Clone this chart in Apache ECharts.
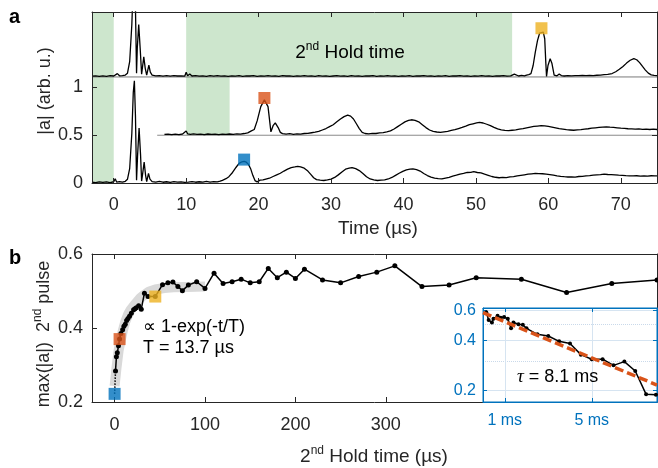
<!DOCTYPE html>
<html><head><meta charset="utf-8">
<script src="https://cdn.jsdelivr.net/npm/echarts@6/dist/echarts.min.js"></script>
<style>html,body{margin:0;padding:0;background:#fff}#c{width:658px;height:468px}</style>
</head><body><div id="c"></div>
<script>
// ---------- DATA ----------
// Panel a: time traces [time (us), |a| relative to own baseline]
const traceBottom = [[-3,0.010],[-2.5,0.004],[-2,0.012],[-1.5,0.006],[-1,0.011],[-0.5,0.005],[0,0.013],[0.2,0.045],[0.4,0.010],[0.8,0.014],[1.2,0.008],[1.6,0.018],[1.9,0.040],[2.2,0.150],[2.5,0.520],[2.7,0.950],[2.85,1.070],[3.0,0.700],[3.15,0.030],[3.3,0.300],[3.5,0.575],[3.7,0.300],[3.85,0.020],[4.0,0.100],[4.2,0.220],[4.4,0.080],[4.55,0.015],[4.8,0.100],[5.0,0.040],[5.3,0.015],[5.8,0.010],[6.3,0.016],[6.8,0.008],[7.3,0.013],[7.8,0.007],[8.3,0.014],[8.8,0.009],[9.3,0.012],[9.8,0.006],[10.0,0.020],[10.3,0.010],[10.8,0.015],[11.3,0.008],[11.8,0.013],[12.3,0.009],[12.8,0.016],[13.3,0.010],[13.8,0.014],[14.3,0.012],[14.7,0.020],[15.0,0.028],[15.5,0.045],[15.9,0.066],[16.4,0.110],[16.9,0.165],[17.3,0.205],[17.7,0.222],[18.0,0.226],[18.3,0.218],[18.6,0.195],[18.9,0.150],[19.2,0.080],[19.5,0.025],[19.8,0.012],[20.2,0.030],[20.6,0.032],[21.0,0.040],[21.5,0.050],[22.0,0.068],[22.5,0.085],[23.0,0.102],[23.5,0.125],[24.0,0.145],[24.5,0.160],[25.0,0.168],[25.4,0.175],[25.8,0.168],[26.3,0.155],[26.8,0.125],[27.2,0.090],[27.6,0.055],[28.0,0.035],[28.5,0.030],[29.0,0.026],[29.5,0.032],[30.0,0.040],[30.5,0.058],[31.0,0.085],[31.5,0.115],[32.0,0.145],[32.5,0.155],[32.9,0.162],[33.4,0.150],[33.9,0.130],[34.4,0.100],[34.9,0.065],[35.4,0.042],[35.9,0.032],[36.4,0.026],[36.9,0.030],[37.4,0.032],[37.9,0.042],[38.4,0.058],[38.9,0.080],[39.4,0.102],[39.9,0.122],[40.4,0.138],[40.9,0.145],[41.3,0.148],[41.8,0.140],[42.3,0.125],[42.8,0.100],[43.3,0.078],[43.8,0.062],[44.3,0.050],[44.8,0.046],[45.3,0.044],[45.8,0.052],[46.3,0.060],[46.8,0.072],[47.3,0.082],[47.8,0.094],[48.3,0.100],[48.8,0.110],[49.3,0.112],[49.7,0.118],[50.2,0.110],[50.7,0.105],[51.2,0.092],[51.7,0.080],[52.2,0.068],[52.7,0.060],[53.2,0.055],[53.7,0.058],[54.2,0.056],[54.7,0.064],[55.2,0.066],[55.7,0.074],[56.2,0.080],[56.7,0.086],[57.2,0.092],[57.7,0.096],[58.2,0.100],[58.7,0.098],[59.2,0.097],[59.7,0.093],[60.2,0.088],[60.7,0.082],[61.2,0.075],[61.7,0.070],[62.2,0.066],[62.7,0.063],[63.2,0.064],[63.7,0.062],[64.2,0.068],[64.7,0.070],[65.2,0.075],[65.7,0.078],[66.2,0.082],[66.7,0.085],[67.2,0.088],[67.7,0.092],[68.2,0.089],[68.7,0.087],[69.2,0.085],[69.7,0.082],[70.2,0.080],[70.7,0.077],[71.2,0.075],[71.7,0.074],[72.2,0.076],[72.7,0.073],[73.2,0.075],[73.7,0.072],[74.2,0.076],[74.7,0.074],[75.0,0.075]];
const traceMiddle = [[7.0,0.008],[7.5,0.012],[8.0,0.006],[8.5,0.011],[9.0,0.007],[9.5,0.013],[10.0,0.045],[10.2,0.015],[10.6,0.010],[11.0,0.014],[11.5,0.008],[12.0,0.012],[12.5,0.006],[13.0,0.013],[13.5,0.009],[14.0,0.012],[14.5,0.007],[15.0,0.011],[15.5,0.008],[16.0,0.013],[16.5,0.010],[17.0,0.014],[17.5,0.012],[18.0,0.018],[18.5,0.025],[19.0,0.045],[19.4,0.060],[19.8,0.150],[20.3,0.300],[20.8,0.370],[21.0,0.375],[21.3,0.300],[21.7,0.035],[22.0,0.100],[22.3,0.130],[22.7,0.080],[23.0,0.030],[23.3,0.017],[23.8,0.012],[24.3,0.016],[24.8,0.010],[25.3,0.015],[25.8,0.012],[26.3,0.018],[26.8,0.020],[27.3,0.026],[27.8,0.032],[28.3,0.040],[28.8,0.055],[29.3,0.070],[29.8,0.090],[30.3,0.110],[30.8,0.140],[31.3,0.170],[31.8,0.195],[32.3,0.210],[32.7,0.200],[33.1,0.170],[33.5,0.120],[33.9,0.070],[34.3,0.030],[34.7,0.018],[35.2,0.015],[35.7,0.020],[36.2,0.018],[36.7,0.024],[37.2,0.028],[37.7,0.035],[38.2,0.045],[38.7,0.065],[39.2,0.090],[39.7,0.115],[40.2,0.140],[40.7,0.155],[41.1,0.162],[41.6,0.155],[42.1,0.140],[42.6,0.110],[43.1,0.080],[43.6,0.055],[44.1,0.040],[44.6,0.034],[45.1,0.030],[45.6,0.036],[46.1,0.040],[46.6,0.050],[47.1,0.058],[47.6,0.070],[48.1,0.082],[48.6,0.095],[49.1,0.110],[49.6,0.120],[50.1,0.130],[50.5,0.135],[51.0,0.128],[51.5,0.115],[52.0,0.100],[52.5,0.082],[53.0,0.066],[53.5,0.055],[54.0,0.050],[54.5,0.048],[55.0,0.052],[55.5,0.056],[56.0,0.064],[56.5,0.070],[57.0,0.078],[57.5,0.085],[58.0,0.092],[58.5,0.096],[59.0,0.100],[59.5,0.098],[60.0,0.092],[60.5,0.086],[61.0,0.078],[61.5,0.070],[62.0,0.064],[62.5,0.058],[63.0,0.055],[63.5,0.052],[64.0,0.056],[64.5,0.058],[65.0,0.064],[65.5,0.068],[66.0,0.074],[66.5,0.078],[67.0,0.082],[67.5,0.085],[68.0,0.088],[68.5,0.084],[69.0,0.082],[69.5,0.078],[70.0,0.074],[70.5,0.072],[71.0,0.068],[71.5,0.066],[72.0,0.064],[72.5,0.066],[73.0,0.062],[73.5,0.064],[74.0,0.060],[74.5,0.063],[75.0,0.060]];
const traceTop = [[-3,0.008],[-2.5,0.012],[-2,0.006],[-1.5,0.011],[-1,0.007],[-0.5,0.013],[0,0.010],[0.5,0.035],[0.8,0.012],[1.2,0.015],[1.6,0.020],[1.9,0.040],[2.2,0.160],[2.5,0.550],[2.7,0.980],[2.85,1.070],[3.0,0.720],[3.15,0.040],[3.25,0.300],[3.45,0.550],[3.65,0.300],[3.85,0.030],[4.0,0.120],[4.15,0.210],[4.35,0.090],[4.55,0.020],[4.85,0.125],[5.05,0.050],[5.3,0.020],[5.8,0.012],[6.3,0.015],[6.8,0.009],[7.3,0.013],[7.8,0.008],[8.3,0.014],[8.8,0.010],[9.3,0.012],[9.8,0.008],[10.0,0.050],[10.2,0.012],[10.5,0.030],[10.8,0.010],[11.3,0.015],[11.8,0.008],[12.3,0.012],[12.8,0.007],[13.3,0.013],[13.8,0.009],[14.3,0.014],[14.8,0.008],[15.3,0.012],[15.8,0.006],[16.3,0.011],[16.8,0.009],[17.3,0.014],[17.8,0.007],[18.3,0.012],[18.8,0.010],[19.3,0.013],[19.8,0.006],[20.3,0.011],[20.8,0.008],[21.3,0.014],[21.8,0.009],[22.3,0.012],[22.8,0.007],[23.3,0.013],[23.8,0.010],[24.3,0.011],[24.8,0.006],[25.3,0.012],[25.8,0.009],[26.3,0.014],[26.8,0.008],[27.3,0.011],[27.8,0.007],[28.3,0.013],[28.8,0.009],[29.3,0.012],[29.8,0.006],[30.3,0.010],[30.8,0.013],[31.3,0.008],[31.8,0.012],[32.3,0.007],[32.8,0.014],[33.3,0.009],[33.8,0.011],[34.3,0.006],[34.8,0.012],[35.3,0.010],[35.8,0.013],[36.3,0.007],[36.8,0.011],[37.3,0.009],[37.8,0.014],[38.3,0.008],[38.8,0.012],[39.3,0.006],[39.8,0.011],[40.3,0.009],[40.8,0.013],[41.3,0.007],[41.8,0.012],[42.3,0.010],[42.8,0.014],[43.3,0.008],[43.8,0.011],[44.3,0.006],[44.8,0.012],[45.3,0.009],[45.8,0.013],[46.3,0.007],[46.8,0.011],[47.3,0.010],[47.8,0.014],[48.3,0.008],[48.8,0.012],[49.3,0.007],[49.8,0.011],[50.3,0.009],[50.8,0.013],[51.3,0.008],[51.8,0.012],[52.3,0.006],[52.8,0.011],[53.3,0.010],[53.8,0.013],[54.3,0.008],[54.8,0.012],[55.3,0.030],[55.5,0.012],[55.9,0.010],[56.3,0.016],[56.7,0.012],[57.0,0.020],[57.3,0.025],[57.6,0.035],[57.9,0.120],[58.2,0.260],[58.5,0.380],[58.8,0.460],[59.0,0.480],[59.3,0.470],[59.5,0.400],[59.65,0.150],[59.75,0.005],[59.95,0.120],[60.25,0.190],[60.5,0.140],[60.8,0.020],[61.2,0.012],[61.5,0.030],[61.8,0.015],[62.2,0.010],[62.7,0.014],[63.2,0.011],[63.7,0.015],[64.2,0.013],[64.7,0.017],[65.2,0.014],[65.7,0.016],[66.2,0.015],[66.7,0.018],[67.2,0.020],[67.7,0.024],[68.2,0.028],[68.8,0.036],[69.3,0.055],[69.8,0.080],[70.3,0.110],[70.8,0.145],[71.3,0.175],[71.8,0.192],[72.2,0.180],[72.6,0.150],[73.0,0.110],[73.4,0.072],[73.8,0.040],[74.2,0.022],[74.6,0.016],[75.0,0.014]];
const baseBottom = 0, baseMiddle = 0.5, baseTop = 1.11, middleStart = 6;
// green "hold" regions: [t0, t1, ylow, yhigh]
const greenRegions = [[-3,0,0,1.79],[10,55,1.11,1.79],[10,16,0.5,1.11]];
// markers in panel a [time, |a|]
const markersA = [[18.0,0.245],[20.8,0.89],[59.05,1.62]];
const markerColors = ['#0072BD','#D95319','#EDB120'];

// Panel b: [hold time (us), max|a|]
const holdData = [[1,0.284],[2,0.322],[3,0.333],[4.3,0.352],[5.5,0.37],[7,0.385],[8.9,0.395],[10.3,0.405],[11.8,0.41],[13.3,0.42],[14.8,0.426],[16.5,0.432],[18.5,0.44],[21,0.449],[22.5,0.452],[24,0.455],[26.6,0.46],[29.5,0.451],[33,0.494],[37,0.485],[45,0.485],[53,0.517],[59,0.522],[64.5,0.524],[70,0.512],[75,0.501],[81.6,0.516],[90.8,0.525],[100,0.507],[110,0.548],[120,0.52],[130,0.525],[140,0.532],[150,0.522],[160,0.525],[170,0.561],[180,0.536],[190,0.551],[200,0.534],[210,0.559],[230,0.53],[250,0.522],[270,0.539],[290,0.551],[310,0.568],[340,0.512],[370,0.516],[400,0.536],[450,0.532],[500,0.496],[550,0.52],[600,0.53]];
const fitBand = [[0,0.243],[2,0.29],[4.5,0.34],[7,0.37],[9,0.392],[11.8,0.417],[15,0.437],[18,0.45],[22.9,0.465],[28,0.48],[33,0.49],[37.6,0.498],[45,0.504],[55,0.508],[65,0.51],[80,0.511],[100,0.512]];
const markersB = [[0,0.222],[5.5,0.37],[45,0.485]];
// Inset: [hold time (ms), max|a|] on log y
const insetData = [[0.15,0.587],[0.26,0.528],[0.41,0.51],[0.48,0.537],[0.67,0.56],[0.82,0.544],[0.97,0.55],[1.14,0.537],[1.29,0.471],[1.4,0.51],[1.63,0.499],[1.83,0.494],[2.0,0.471],[2.5,0.434],[3.0,0.424],[3.5,0.394],[4.0,0.382],[4.5,0.328],[5.0,0.308],[5.5,0.308],[6.0,0.283],[6.5,0.298],[7.0,0.262],[7.5,0.19],[7.95,0.189]];
const insetFit = [[0,0.585],[8,0.216]];
// ticks
const timeTicks = [0,10,20,30,40,50,60,70];
const ampTicks = [0,0.5,1];
const holdTicks = [0,100,200,300];
const maxTicks = [0.2,0.4,0.6];
const insetXTicks = [1,5];
const insetYTicks = [0.2,0.4,0.6];
const insetYMinor = [0.3,0.5];

// ---------- CHART ----------
const FONT = "'Liberation Sans', Arial, Helvetica, sans-serif";
const AX = '#262626';
const BLUE = '#0072BD';
const GREEN = '#cde6cd';

function axis(o) {
  const ticks = o.ticks, col = o.color || AX;
  return {
    gridIndex: o.grid, type: o.type || 'value', min: o.min, max: o.max, position: o.pos, z: o.z,
    axisLine: { show: true, onZero: false, lineStyle: { color: col, width: 1 } },
    axisTick: { show: true, inside: true, length: o.tl || 5, customValues: ticks, lineStyle: { color: col, width: 1 } },
    axisLabel: o.labels ? { show: true, customValues: ticks, fontSize: o.fs || 18, fontFamily: FONT, color: col, margin: o.margin, formatter: o.fmt } : { show: false },
    splitLine: o.split ? { show: true, lineStyle: { color: '#d6e4f1', width: 1 } } : { show: false }
  };
}

const shift = (arr, b) => arr.map(p => [p[0], p[1] + b]);

const option = {
  animation: false,
  backgroundColor: '#fff',
  grid: [
    { left: 92, top: 12, width: 565, height: 171, outerBoundsMode: 'none', show: false },
    { left: 92, top: 254, width: 565, height: 148, outerBoundsMode: 'none', show: false },
    { left: 483, top: 308, width: 174, height: 94, outerBoundsMode: 'none', show: true, z: 4, backgroundColor: '#fff', borderColor: BLUE, borderWidth: 1 }
  ],
  xAxis: [
    axis({ grid: 0, min: -3, max: 75, pos: 'bottom', ticks: timeTicks, labels: true, margin: 13, z: 5 }),
    axis({ grid: 0, min: -3, max: 75, pos: 'top', ticks: timeTicks, z: 5 }),
    axis({ grid: 1, min: -25, max: 600, pos: 'bottom', ticks: holdTicks, labels: true, margin: 14, z: 3 }),
    axis({ grid: 1, min: -25, max: 600, pos: 'top', ticks: holdTicks, z: 3 }),
    axis({ grid: 2, min: 0, max: 8, pos: 'bottom', ticks: insetXTicks, labels: true, margin: 11, fs: 16, color: BLUE, fmt: v => v + ' ms', split: true, tl: 4, z: 6 }),
    axis({ grid: 2, min: 0, max: 8, pos: 'top', ticks: insetXTicks, color: BLUE, tl: 4, z: 6 })
  ],
  yAxis: [
    axis({ grid: 0, min: 0, max: 1.79, pos: 'left', ticks: ampTicks, labels: true, margin: 9, z: 5 }),
    axis({ grid: 0, min: 0, max: 1.79, pos: 'right', ticks: ampTicks, z: 5 }),
    axis({ grid: 1, min: 0.2, max: 0.6, pos: 'left', ticks: maxTicks, labels: true, margin: 9, fmt: v => v.toFixed(1), z: 3 }),
    axis({ grid: 1, min: 0.2, max: 0.6, pos: 'right', ticks: maxTicks, z: 3 }),
    axis({ grid: 2, type: 'log', min: 0.171, max: 0.623, pos: 'left', ticks: insetYTicks, labels: true, margin: 7, fs: 16, color: BLUE, fmt: v => Number(v).toFixed(1), split: true, tl: 4, z: 6 }),
    axis({ grid: 2, type: 'log', min: 0.171, max: 0.623, pos: 'right', ticks: insetYTicks, color: BLUE, tl: 4, z: 6 })
  ],
  series: [
    { type: 'line', xAxisIndex: 0, yAxisIndex: 0, data: [], z: 1, silent: true,
      markArea: { silent: true, itemStyle: { color: GREEN }, data: greenRegions.map(r => [{ xAxis: r[0], yAxis: r[2] }, { xAxis: r[1], yAxis: r[3] }]) } },
    { type: 'line', xAxisIndex: 0, yAxisIndex: 0, z: 2, symbol: 'none', silent: true, data: [[-3, baseTop], [75, baseTop]], lineStyle: { color: '#7a7a7a', width: 1 } },
    { type: 'line', xAxisIndex: 0, yAxisIndex: 0, z: 2, symbol: 'none', silent: true, data: [[middleStart, baseMiddle], [75, baseMiddle]], lineStyle: { color: '#8a8a8a', width: 1 } },
    { type: 'line', xAxisIndex: 0, yAxisIndex: 0, z: 3, symbol: 'none', data: shift(traceBottom, baseBottom), lineStyle: { color: '#000', width: 1.3 } },
    { type: 'line', xAxisIndex: 0, yAxisIndex: 0, z: 3, symbol: 'none', data: shift(traceMiddle, baseMiddle), lineStyle: { color: '#000', width: 1.3 } },
    { type: 'line', xAxisIndex: 0, yAxisIndex: 0, z: 3, symbol: 'none', data: shift(traceTop, baseTop), lineStyle: { color: '#000', width: 1.3 } },
    { type: 'scatter', xAxisIndex: 0, yAxisIndex: 0, z: 4, symbol: 'rect', symbolSize: 12,
      data: markersA.map((p, i) => ({ value: p, itemStyle: { color: markerColors[i] } })) },
    // panel b
    { type: 'line', xAxisIndex: 2, yAxisIndex: 2, z: 2, symbol: 'none', data: fitBand, lineStyle: { color: '#d9d9d9', width: 10, cap: 'butt' } },
    { type: 'line', xAxisIndex: 2, yAxisIndex: 2, z: 3, symbol: 'none', data: [markersB[0], holdData[0]], lineStyle: { color: '#000', width: 1.5, type: 'dotted' } },
    { type: 'line', xAxisIndex: 2, yAxisIndex: 2, z: 3, symbol: 'circle', symbolSize: 5, showSymbol: true, data: holdData,
      itemStyle: { color: '#000' }, lineStyle: { color: '#000', width: 1.5 } },
    { type: 'scatter', xAxisIndex: 2, yAxisIndex: 2, z: 4, symbol: 'rect', symbolSize: 12,
      data: markersB.map((p, i) => ({ value: p, itemStyle: { color: markerColors[i] } })) },
    // inset
    { type: 'line', xAxisIndex: 4, yAxisIndex: 4, z: 7, symbol: 'circle', symbolSize: 4, showSymbol: true, data: insetData,
      itemStyle: { color: '#000' }, lineStyle: { color: '#000', width: 1.5 },
      markLine: { silent: true, symbol: 'none', label: { show: false }, lineStyle: { color: '#c9d9ea', type: 'dotted', width: 1 },
        data: insetYMinor.map(v => ({ yAxis: v })) } },
    { type: 'line', xAxisIndex: 4, yAxisIndex: 4, z: 8, symbol: 'none', data: insetFit, lineStyle: { color: '#D95319', width: 3.5, type: [9, 4] } }
  ],
  graphic: [
    { type: 'text', x: 9, y: 7, z: 20, style: { text: 'a', fontSize: 20, fontWeight: 'bold', fontFamily: FONT, fill: '#000' } },
    { type: 'text', x: 9, y: 248, z: 20, style: { text: 'b', fontSize: 20, fontWeight: 'bold', fontFamily: FONT, fill: '#000' } },
    { type: 'text', x: 45, y: 91, rotation: Math.PI / 2, z: 20, style: { text: '|a| (arb. u.)', fontSize: 18, fontFamily: FONT, fill: AX, align: 'center', verticalAlign: 'middle' } },
    { type: 'text', x: 44, y: 334, rotation: Math.PI / 2, z: 20, style: { text: '{n|max(|a|)  2}{s|nd}{n| pulse}', align: 'center', verticalAlign: 'middle',
        rich: { n: { fontSize: 18, fontFamily: FONT, fill: AX }, s: { fontSize: 12, fontFamily: FONT, fill: AX, padding: [0, 0, 12, 0] } } } },
    { type: 'text', x: 378, y: 229, z: 20, style: { text: 'Time (µs)', fontSize: 19, fontFamily: FONT, fill: AX, align: 'center', verticalAlign: 'middle' } },
    { type: 'text', x: 374, y: 457, z: 20, style: { text: '{n|2}{s|nd}{n| Hold time (µs)}', align: 'center', verticalAlign: 'middle',
        rich: { n: { fontSize: 19, fontFamily: FONT, fill: AX }, s: { fontSize: 12, fontFamily: FONT, fill: AX, padding: [0, 0, 12, 0] } } } },
    { type: 'text', x: 350, y: 53, z: 20, style: { text: '{n|2}{s|nd}{n| Hold time}', align: 'center', verticalAlign: 'middle',
        rich: { n: { fontSize: 19, fontFamily: FONT, fill: '#000' }, s: { fontSize: 12, fontFamily: FONT, fill: '#000', padding: [0, 0, 12, 0] } } } },
    { type: 'text', x: 143, y: 327, z: 20, style: { text: '∝ 1-exp(-t/T)', fontSize: 18, fontFamily: FONT, fill: '#000', align: 'left', verticalAlign: 'middle' } },
    { type: 'text', x: 143, y: 348, z: 20, style: { text: 'T = 13.7 µs', fontSize: 18, fontFamily: FONT, fill: '#000', align: 'left', verticalAlign: 'middle' } },
    { type: 'text', x: 517, y: 377, z: 20, style: { text: '{t|τ}{n| = 8.1 ms}', align: 'left', verticalAlign: 'middle',
        rich: { t: { fontSize: 19, fontFamily: "'Liberation Serif', 'DejaVu Serif', serif", fontStyle: 'italic', fill: '#000' }, n: { fontSize: 18, fontFamily: FONT, fill: '#000' } } } }
  ]
};

const chart = echarts.init(document.getElementById('c'), null, { renderer: 'canvas' });
chart.setOption(option);
</script>
</body></html>
